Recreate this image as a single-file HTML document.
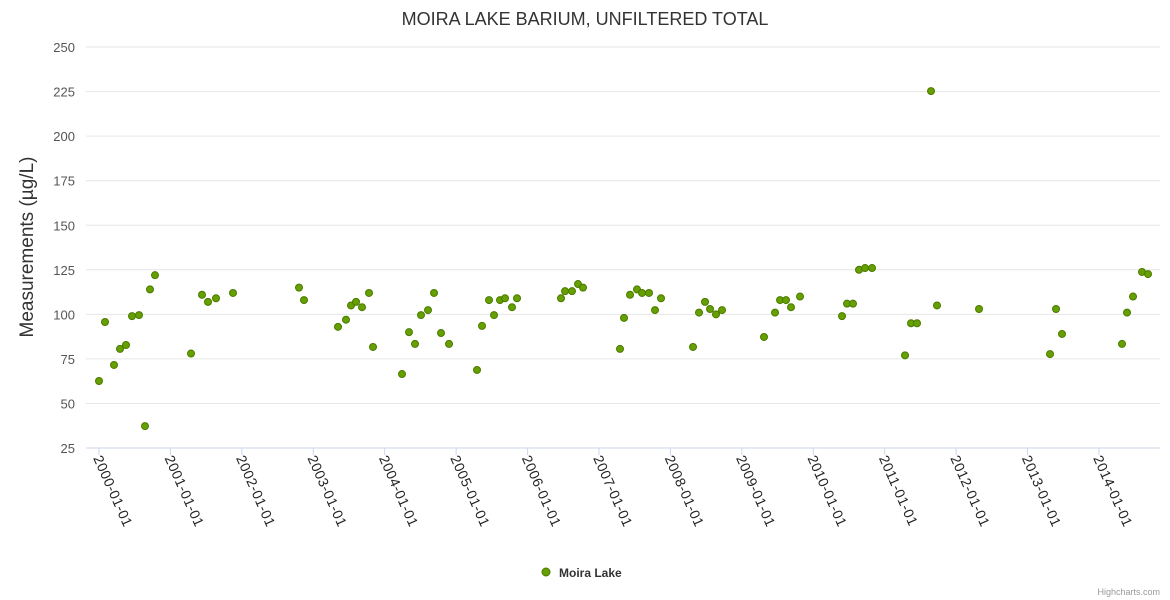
<!DOCTYPE html>
<html><head><meta charset="utf-8"><style>
body{margin:0;background:#fff;}
svg{display:block;font-family:"Liberation Sans",sans-serif;}
</style></head><body>
<svg id="chart" width="1170" height="600" xmlns="http://www.w3.org/2000/svg">
<text x="585" y="25" text-anchor="middle" font-size="18" fill="#333">MOIRA LAKE BARIUM, UNFILTERED TOTAL</text>
<text transform="translate(33,247) rotate(-90)" text-anchor="middle" font-size="19" fill="#333">Measurements (µg/L)</text>
<g id="grid"></g>
<g id="yticks"></g>
<g id="xticks"></g>
<g id="points"></g>
<g>
<circle cx="546" cy="572" r="4" fill="#66a000" stroke="#4a7a00" stroke-width="1"/>
<text x="559" y="577" font-size="12" font-weight="bold" fill="#333">Moira Lake</text>
</g>
<text x="1160" y="595" text-anchor="end" font-size="9" fill="#999">Highcharts.com</text>
</svg>
<script>
const yearOffsets=[0,.084,.21,.294,.378,.462,.56,.644,.714,.784,1.288,1.442,1.526,1.638,1.876,2.8,2.87,3.346,3.458,3.528,3.598,3.682,3.78,3.836,4.242,4.34,4.424,4.508,4.606,4.69,4.788,4.9,5.292,5.362,5.46,5.53,5.614,5.684,5.782,5.852,6.468,6.524,6.622,6.706,6.776,7.294,7.35,7.434,7.532,7.602,7.7,7.784,7.868,8.316,8.4,8.484,8.554,8.638,8.722,9.31,9.464,9.534,9.618,9.688,9.814,10.402,10.472,10.556,10.64,10.724,10.822,11.284,11.368,11.452,11.648,11.732,12.32,13.314,13.398,13.482,14.322,14.392,14.476,14.602,14.686];
const values=[62.6,95.7,71.6,80.6,82.8,99,99.6,37.3,114,122,78,111,107,109,112,115,108,93,97,105,107,104,112,81.7,66.5,90,83.4,99.6,102.4,112,89.5,83.4,68.8,93.5,108,99.6,108,109,104,109,109,113,113,117,115,80.6,98,111,114,112,112,102.4,109,81.7,101,107,103,100,102.4,87.3,101,108,108,104,110,99,106,106,125,126,126,77,95,95,225.3,105,103,77.7,103,89,83.4,101,110,123.8,122.6];
const yTicks=[25,50,75,100,125,150,175,200,225,250];
const xTickLabels=["2000-01-01","2001-01-01","2002-01-01","2003-01-01","2004-01-01","2005-01-01","2006-01-01","2007-01-01","2008-01-01","2009-01-01","2010-01-01","2011-01-01","2012-01-01","2013-01-01","2014-01-01"];
const NS="http://www.w3.org/2000/svg";
const L=86,R=1160;
function xs(t){return 99+t*71.43;}
function ys(v){return 448-(v-25)*1.782;}
function mk(tag,a,p){const e=document.createElementNS(NS,tag);for(const k in a)e.setAttribute(k,a[k]);p.appendChild(e);return e;}
const grid=document.getElementById('grid'),yt=document.getElementById('yticks'),xt=document.getElementById('xticks'),pts=document.getElementById('points');
yTicks.forEach(v=>{
 const y=ys(v);
 const ln=mk('line',{x1:L,x2:R,y1:y,y2:y,stroke:v===25?'#ccd6eb':'#e6e6e6','stroke-width':1},grid);
 
 
 const t=mk('text',{x:75,y:y+5,'text-anchor':'end','font-size':13,fill:'#555'},yt);
 t.textContent=v;
 
 
});
xTickLabels.forEach((s,i)=>{
 const x=xs(i);
 const tk=mk('line',{x1:x,x2:x,y1:448,y2:455,stroke:'#ccd6eb'},grid);
 
 
 const t=mk('text',{transform:`translate(${x-6},458) rotate(66)`,'font-size':14,'letter-spacing':'0.5',fill:'#222'},xt);
 t.textContent=s;
 
 
});
values.forEach((v,i)=>{
 const c=mk('circle',{cx:xs(yearOffsets[i]),cy:ys(v),r:3.5,fill:'#66a000',stroke:'#4a7a00','stroke-width':1},pts);
 
 
});
</script>
</body></html>
